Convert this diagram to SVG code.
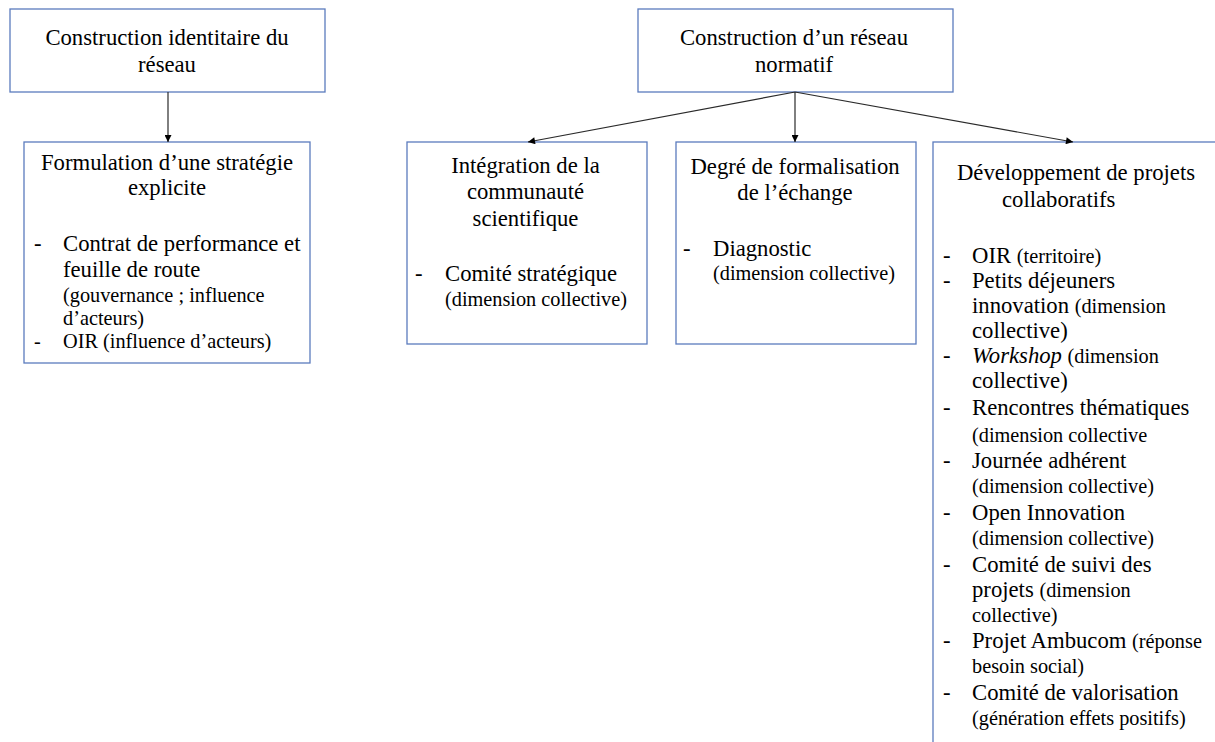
<svg xmlns="http://www.w3.org/2000/svg" width="1215" height="742" viewBox="0 0 1215 742" font-family="'Liberation Serif', 'DejaVu Serif', serif">
<style>
.box{fill:#fff;stroke:#5b7bbd;stroke-width:1.3}
text{font-family:'Liberation Serif','DejaVu Serif',serif;fill:#000}
.t{font-size:22.7px}
.s{font-size:20.3px}
.c{text-anchor:middle}
.e{stroke:#2a2a2a;stroke-width:1.2;fill:none}
</style>
<defs>
<marker id="ah" viewBox="0 0 10 10" refX="10" refY="5" markerWidth="8" markerHeight="7" markerUnits="userSpaceOnUse" orient="auto">
<path d="M0,0 L10,5 L0,10 z" fill="#000"/>
</marker>
</defs>
<rect width="1215" height="742" fill="#fff"/>
<g id="n1">
<rect class="box" x="10" y="9" width="315" height="83"/>
<text class="t c" x="167" y="45">Construction identitaire du</text>
<text class="t c" x="167" y="72">réseau</text>
</g>
<g id="n2">
<rect class="box" x="24" y="142" width="286" height="221"/>
<text class="t c" x="167" y="170">Formulation d’une stratégie</text>
<text class="t c" x="167" y="195">explicite</text>
<text class="t" x="34" y="251">-</text>
<text class="t" x="63" y="251">Contrat de performance et</text>
<text class="t" x="63" y="277">feuille de route</text>
<text class="s" x="63" y="302">(gouvernance ; influence</text>
<text class="s" x="63" y="325">d’acteurs)</text>
<text class="s" x="34" y="348">-</text>
<text class="s" x="63" y="348">OIR (influence d’acteurs)</text>
</g>
<g id="n3">
<rect class="box" x="638" y="9" width="315" height="83"/>
<text class="t c" x="794" y="45">Construction d’un réseau</text>
<text class="t c" x="794" y="72">normatif</text>
</g>
<g id="n4">
<rect class="box" x="407" y="142" width="240" height="202"/>
<text class="t c" x="525.5" y="173">Intégration de la</text>
<text class="t c" x="525.5" y="199">communauté</text>
<text class="t c" x="525.5" y="226">scientifique</text>
<text class="t" x="415" y="281">-</text>
<text class="t" x="445" y="281">Comité stratégique</text>
<text class="s" x="445" y="306">(dimension collective)</text>
</g>
<g id="n5">
<rect class="box" x="676" y="142" width="240" height="202"/>
<text class="t c" x="795" y="174">Degré de formalisation</text>
<text class="t c" x="795" y="200">de l’échange</text>
<text class="t" x="683" y="256">-</text>
<text class="t" x="713" y="256">Diagnostic</text>
<text class="s" x="713" y="280">(dimension collective)</text>
</g>
<g id="n6">
<rect class="box" x="933" y="142" width="300" height="620"/>
<text class="t c" x="1076" y="180">Développement de projets</text>
<text class="t" x="1002" y="207">collaboratifs</text>
<g class="t">
<text x="943" y="263">-</text>
<text x="972" y="263">OIR <tspan class="s">(territoire)</tspan></text>
<text x="943" y="288">-</text>
<text x="972" y="288">Petits déjeuners</text>
<text x="972" y="313">innovation <tspan class="s">(dimension</tspan></text>
<text x="972" y="338">collective)</text>
<text x="943" y="363">-</text>
<text x="972" y="363"><tspan font-style="italic">Workshop</tspan> <tspan class="s">(dimension</tspan></text>
<text x="972" y="388">collective)</text>
<text x="943" y="415">-</text>
<text x="972" y="415">Rencontres thématiques</text>
<text class="s" x="972" y="442">(dimension collective</text>
<text x="943" y="468">-</text>
<text x="972" y="468">Journée adhérent</text>
<text class="s" x="972" y="493">(dimension collective)</text>
<text x="943" y="520">-</text>
<text x="972" y="520">Open Innovation</text>
<text class="s" x="972" y="545">(dimension collective)</text>
<text x="943" y="572">-</text>
<text x="972" y="572">Comité de suivi des</text>
<text x="972" y="597">projets <tspan class="s">(dimension</tspan></text>
<text class="s" x="972" y="622">collective)</text>
<text x="943" y="648">-</text>
<text x="972" y="648">Projet Ambucom <tspan class="s">(réponse</tspan></text>
<text class="s" x="972" y="673">besoin social)</text>
<text x="943" y="700">-</text>
<text x="972" y="700">Comité de valorisation</text>
<text class="s" x="972" y="725">(génération effets positifs)</text>
</g>
</g>
<g id="connectors">
<line class="e" x1="168" y1="92" x2="168" y2="142" marker-end="url(#ah)"/>
<line class="e" x1="795" y1="92" x2="795" y2="142" marker-end="url(#ah)"/>
<line class="e" x1="795" y1="92" x2="528" y2="142" marker-end="url(#ah)"/>
<line class="e" x1="795" y1="92" x2="1073" y2="142" marker-end="url(#ah)"/>
</g>
</svg>
